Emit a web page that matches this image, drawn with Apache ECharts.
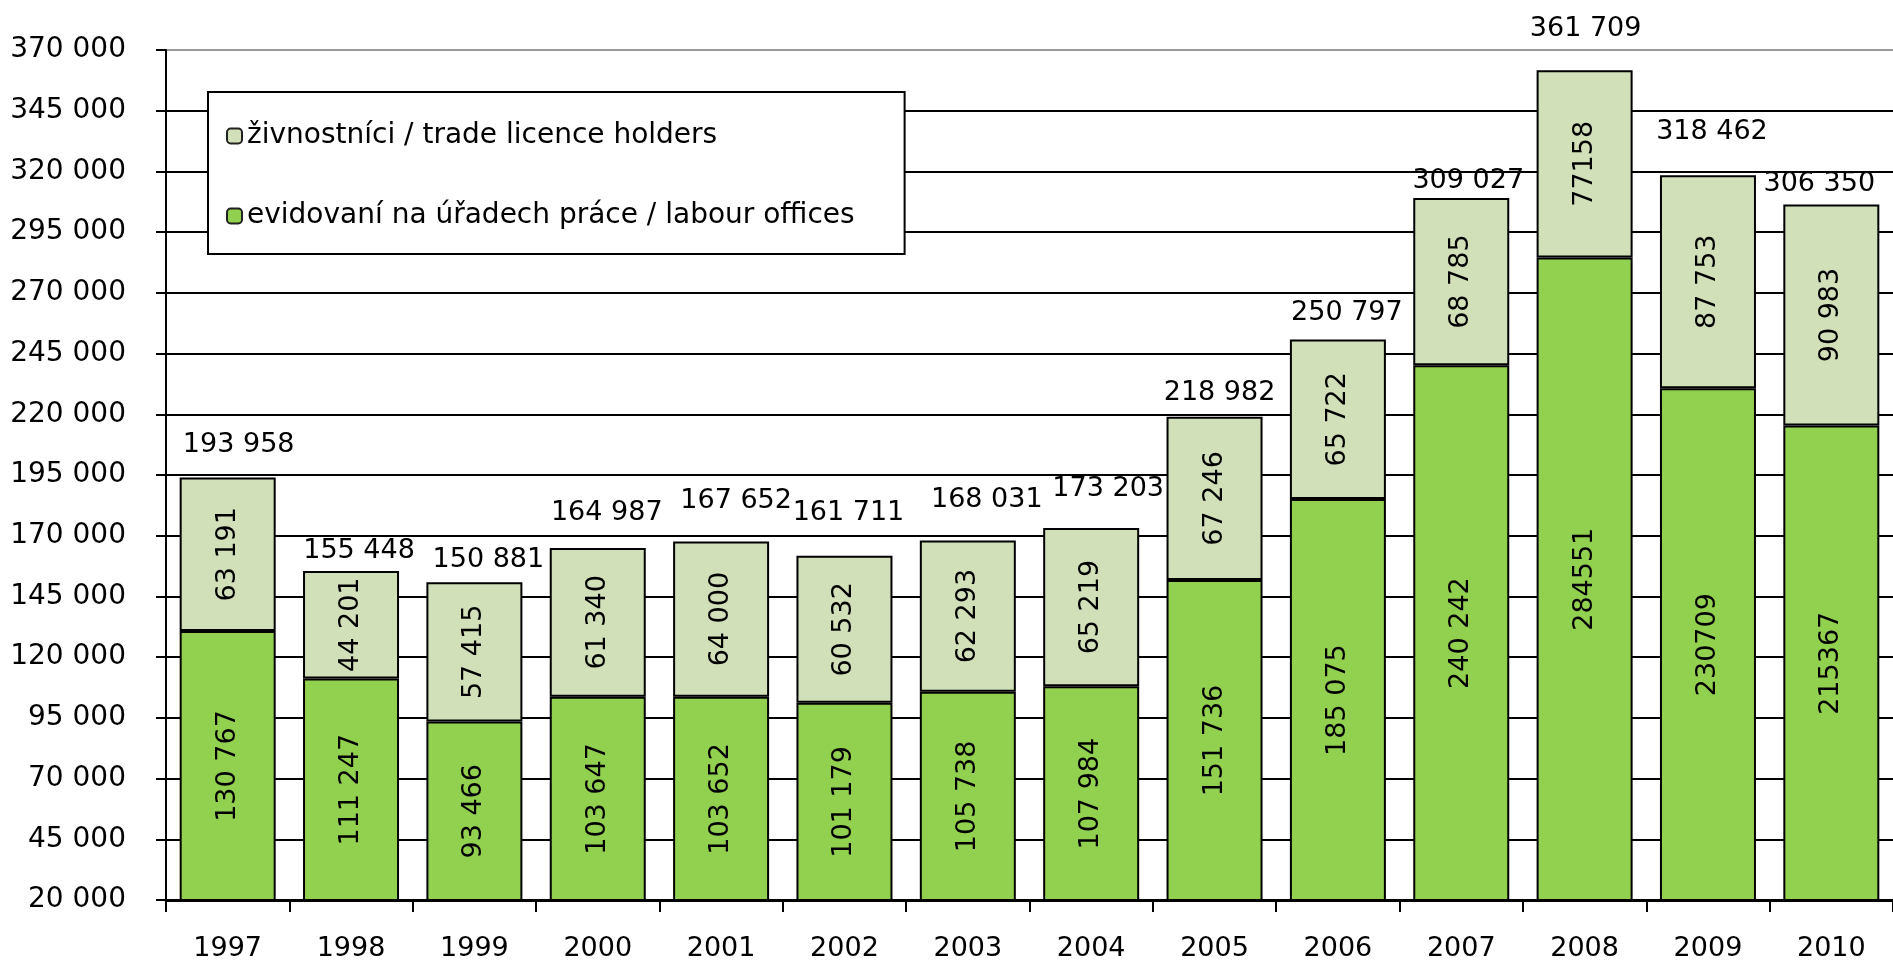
<!DOCTYPE html>
<html>
<head>
<meta charset="utf-8">
<script src="https://cdn.jsdelivr.net/npm/echarts@6/dist/echarts.min.js"></script>
<style>
  html, body { margin: 0; padding: 0; background: #fff; }
  #chart { width: 1893px; height: 964px; }
</style>
</head>
<body>
<div id="chart"></div>
<script>
// roky
const years = ['1997', '1998', '1999', '2000', '2001', '2002', '2003', '2004', '2005', '2006', '2007', '2008', '2009', '2010'];
// evidovaní na úřadech práce
const labourOffices = [130767, 111247, 93466, 103647, 103652, 101179, 105738, 107984, 151736, 185075, 240242, 284551, 230709, 215367];
// živnostníci
const tradeHolders = [63191, 44201, 57415, 61340, 64000, 60532, 62293, 65219, 67246, 65722, 68785, 77158, 87753, 90983];
const seriesNames = ['evidovaní na úřadech práce / labour offices', 'živnostníci / trade licence holders'];

// popisky bez mezery (tak jak jsou v originále)
const noSepLabour = [11, 12, 13];
const noSepTrade = [11];

// posun popisků součtu [dx, výška nad sloupcem]
const totalLabelShift = [[11, 34], [8, 22], [14, 24], [9, 36], [15, 42], [4, 44], [19, 42], [17, 40], [5, 25], [9, 28], [7, 19], [1, 43], [4, 45], [-12, 22]];

const totals = labourOffices.map((v, i) => v + tradeHolders[i]);

const FONT = "'DejaVu Sans', 'Liberation Sans', Arial, sans-serif";

function fmt(v, sep) {
    const s = String(v);
    return sep ? s.replace(/\B(?=(\d{3})+(?!\d))/g, ' ') : s;
}

// barvy mřížky - horní čára šedá
const gridColors = [];
for (let i = 0; i < 14; i++) gridColors.push('#000');
gridColors.push('#9a9a9a');

const chart = echarts.init(document.getElementById('chart'));

const option = {
    animation: false,
    backgroundColor: '#fff',
    textStyle: { fontFamily: FONT },
    grid: { left: 166, right: -7, top: 50, bottom: 64 },
    legend: {
        orient: 'vertical',
        left: 208,
        top: 92,
        padding: [30, 50, 24, 18],
        itemGap: 52,
        itemWidth: 15,
        itemHeight: 15,
        backgroundColor: '#fff',
        borderColor: '#000',
        borderWidth: 2,
        data: [seriesNames[1], seriesNames[0]],
        itemStyle: { borderColor: '#222', borderWidth: 2 },
        textStyle: { fontFamily: FONT, fontSize: 28, color: '#000', padding: [0, 0, 0, 0] }
    },
    xAxis: {
        type: 'category',
        data: years,
        axisLine: { lineStyle: { color: '#000', width: 3 } },
        axisTick: { show: true, length: 12, lineStyle: { color: '#000', width: 2 } },
        axisLabel: { fontFamily: FONT, fontSize: 27, color: '#000', margin: 35 }
    },
    yAxis: {
        type: 'value',
        min: 20000,
        max: 370000,
        interval: 25000,
        axisLine: { show: true, lineStyle: { color: '#000', width: 2 } },
        axisTick: { show: true, length: 10, lineStyle: { color: '#000', width: 2 } },
        axisLabel: {
            fontFamily: FONT, fontSize: 28, color: '#000', margin: 40,
            formatter: v => fmt(v, true)
        },
        splitLine: { show: true, lineStyle: { color: gridColors, width: 2 } }
    },
    series: [
        {
            name: seriesNames[0],
            type: 'bar',
            stack: 'total',
            barWidth: 96,
            data: labourOffices,
            itemStyle: { color: '#92D050', borderColor: '#000', borderWidth: 2 },
            label: {
                show: true,
                position: 'inside',
                rotate: 90,
                fontFamily: FONT,
                fontSize: 27,
                color: '#000',
                formatter: p => fmt(p.value, noSepLabour.indexOf(p.dataIndex) < 0)
            }
        },
        {
            name: seriesNames[1],
            type: 'bar',
            stack: 'total',
            barWidth: 96,
            data: tradeHolders,
            itemStyle: { color: '#D1E0B9', borderColor: '#000', borderWidth: 2 },
            label: {
                show: true,
                position: 'inside',
                rotate: 90,
                fontFamily: FONT,
                fontSize: 27,
                color: '#000',
                formatter: p => fmt(p.value, noSepTrade.indexOf(p.dataIndex) < 0)
            }
        },
        {
            name: 'celkem',
            type: 'scatter',
            symbolSize: 0,
            silent: true,
            z: 5,
            itemStyle: { opacity: 1 },
            data: totals.map((v, i) => ({
                value: v,
                label: { offset: [totalLabelShift[i][0], -(totalLabelShift[i][1] - 15)] }
            })),
            label: {
                show: true,
                position: 'top',
                distance: 0,
                fontFamily: FONT,
                fontSize: 27,
                color: '#000',
                opacity: 1,
                formatter: p => fmt(p.value, true)
            }
        }
    ]
};

chart.setOption(option);
</script>
</body>
</html>
